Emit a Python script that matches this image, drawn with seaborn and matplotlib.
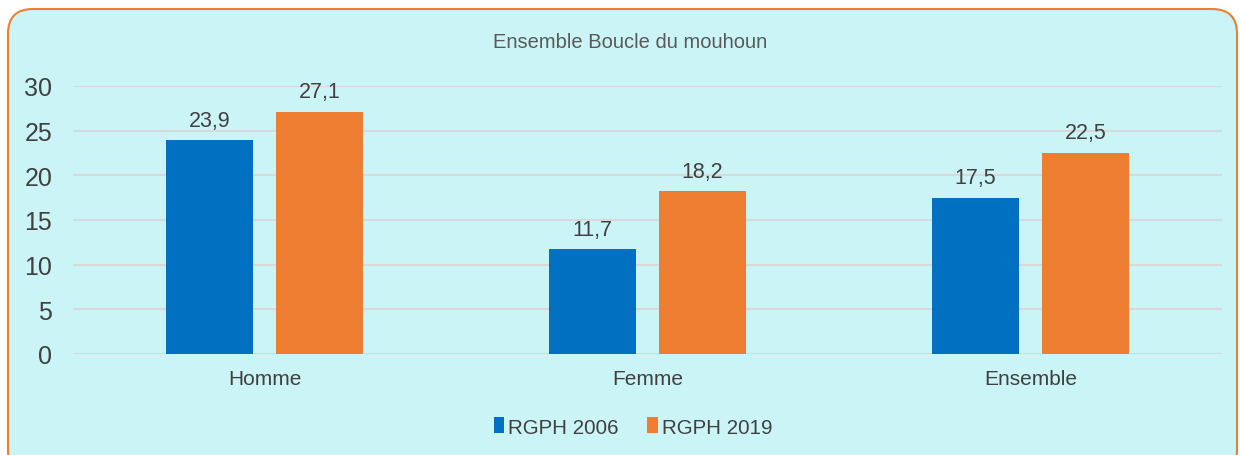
import pandas as pd
import seaborn as sns
import matplotlib.pyplot as plt
from matplotlib.patches import FancyBboxPatch

categories = ["Homme", "Femme", "Ensemble"]
rgph_2006 = [23.9, 11.7, 17.5]
rgph_2019 = [27.1, 18.2, 22.5]
series = ["RGPH 2006", "RGPH 2019"]
colors = ["#0070C0", "#ED7D31"]

df = pd.DataFrame({
    "cat": categories * 2,
    "val": rgph_2006 + rgph_2019,
    "serie": [series[0]] * 3 + [series[1]] * 3,
})

sns.set_style("white")
plt.rcParams["font.family"] = ["Liberation Sans", "DejaVu Sans"]

W, H = 1241, 456
fig = plt.figure(figsize=(W / 100, H / 100), dpi=100)
fig.patch.set_facecolor("white")

# rounded panel behind the axes
box = FancyBboxPatch((8 / W, -20 / H), 1229 / W, 446 / H + 20 / H,
                     boxstyle="round,pad=0,rounding_size=0.02",
                     transform=fig.transFigure, facecolor="#CBF4F6",
                     edgecolor="#ED7D31", linewidth=1.5, mutation_aspect=W / H,
                     zorder=-5)
fig.patches.append(box)

ax = fig.add_axes([73 / W, (H - 355) / H, (1222 - 73) / W, (355 - 87) / H])
ax.set_facecolor("none")

sns.barplot(data=df, x="cat", y="val", hue="serie", palette=colors,
            width=0.573, gap=0.21, ax=ax, saturation=1, legend=True,
            linewidth=0, edgecolor="none")

for cont in ax.containers:
    vals = [b.get_height() for b in cont]
    ax.bar_label(cont, labels=[f"{v:.1f}".replace(".", ",") for v in vals],
                 padding=7, fontsize=15.5, color="#404040")

ax.set_xlim(-0.5, 2.5)
ax.set_ylim(0, 30)
ax.set_yticks(range(0, 31, 5))
ax.yaxis.grid(True, color="#D9D9D9", linewidth=1.5)
ax.set_axisbelow(True)
for s in ax.spines.values():
    s.set_visible(False)
ax.tick_params(axis="y", length=0, labelsize=18, labelcolor="#404040", pad=15)
ax.tick_params(axis="x", length=0, labelsize=15, labelcolor="#404040", pad=11)
ax.set_xlabel("")
ax.set_ylabel("")

fig.text(630 / W, (H - 43) / H, "Ensemble Boucle du mouhoun", ha="center",
         va="center", fontsize=14.5, color="#595959")

ax.legend(loc="center", bbox_to_anchor=(633 / W, (H - 428) / H),
          bbox_transform=fig.transFigure, ncol=2, frameon=False,
          fontsize=14.8, labelcolor="#404040", handlelength=0.5,
          handleheight=0.8, handletextpad=0.2, columnspacing=1.4)

fig.savefig("out.png", dpi=100)
